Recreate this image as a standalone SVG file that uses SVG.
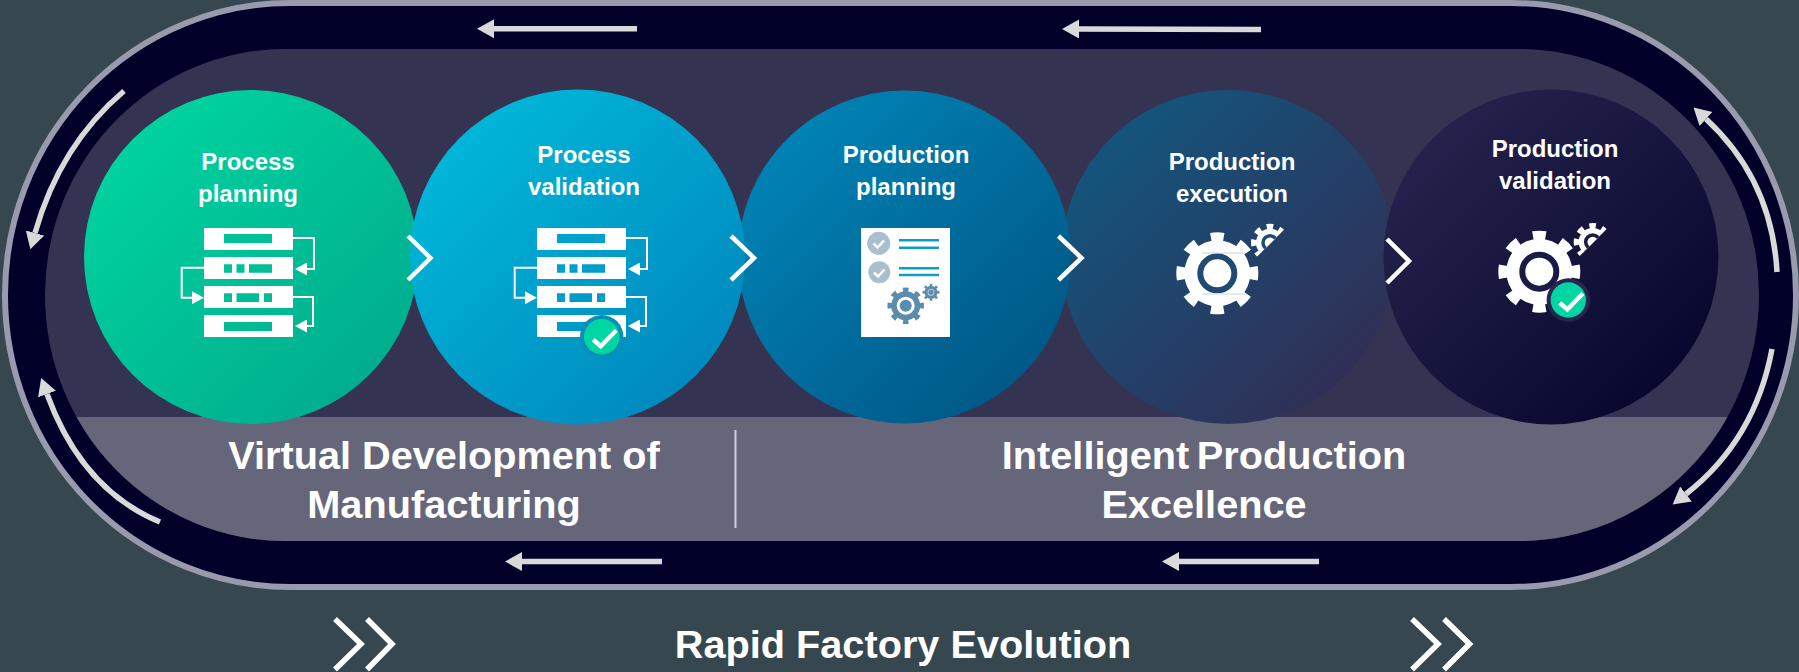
<svg xmlns="http://www.w3.org/2000/svg" width="1799" height="672" viewBox="0 0 1799 672">
<style>
.lbl{font:bold 24px "Liberation Sans",Arial,sans-serif;fill:#fff;text-anchor:middle}
.big{font:bold 39.700px "Liberation Sans",Arial,sans-serif;fill:#fff;text-anchor:middle}
.chev{fill:none;stroke:#fff;stroke-width:4.500}
.chev2{fill:none;stroke:#fff;stroke-width:5.500}
.arr{fill:none;stroke:#d9d9d9;stroke-width:5.500;marker-end:url(#ah)}
.w{fill:#fff}
.wl{fill:none;stroke:#fff;stroke-width:2;marker-end:url(#sh)}
.chk{fill:none;stroke:#fff;stroke-width:4.500}
</style>
<defs>
<linearGradient id="g1" x1=".15" y1=".15" x2=".85" y2=".85"><stop offset="0" stop-color="#00d2a0"/><stop offset="1" stop-color="#00ae8e"/></linearGradient>
<linearGradient id="g2" x1=".15" y1=".15" x2=".85" y2=".85"><stop offset="0" stop-color="#00b6d8"/><stop offset="1" stop-color="#008abf"/></linearGradient>
<linearGradient id="g3" x1=".15" y1=".15" x2=".85" y2=".85"><stop offset="0" stop-color="#0082b4"/><stop offset="1" stop-color="#005988"/></linearGradient>
<linearGradient id="g4" x1=".15" y1=".15" x2=".85" y2=".85"><stop offset="0" stop-color="#14547c"/><stop offset="1" stop-color="#303057"/></linearGradient>
<linearGradient id="g5" x1=".15" y1=".15" x2=".85" y2=".85"><stop offset="0" stop-color="#24224c"/><stop offset="1" stop-color="#08082f"/></linearGradient>
<marker id="ah" markerUnits="userSpaceOnUse" markerWidth="18" markerHeight="20" refX="0" refY="9.500" orient="auto"><path d="M0 0L17 9.500L0 19Z" fill="#d9d9d9"/></marker>
<marker id="sh" markerUnits="userSpaceOnUse" markerWidth="13" markerHeight="13" refX="0" refY="6.500" orient="auto"><path d="M0 0L12 6.500L0 13Z" fill="#fff"/></marker>
<clipPath id="lower"><rect x="0" y="417" width="1799" height="130"/></clipPath>
<clipPath id="half"><path d="M15 -14L-13 14L-30 14L-30 -30L15 -30Z"/></clipPath>
<g id="servers">
<path class="w" fill-rule="evenodd" d="M204 228h89v22h-89zM224 234v9h48v-9zM204 257h89v22h-89zM224 264.300v8.400h8v-8.400zM236.500 264.300v8.400h8v-8.400zM249 264.300v8.400h23v-8.400zM204 286h89v22h-89zM224 293.300v8.700h8v-8.700zM236.500 293.300v8.700h22.500v-8.700zM264 293.300v8.700h8v-8.700zM204 315h89v22h-89zM224 322v9h48v-9z"/>
<path class="wl" d="M293 238H314V269H307"/>
<path class="wl" d="M204 267.700H181.700V297.700H192"/>
<path class="wl" d="M293 297H313V326H307"/>
</g>
<g id="gear">
<circle r="36" fill="none" stroke="#fff" stroke-width="10" pathLength="80" stroke-dasharray="4.500 5.500" stroke-dashoffset="2.250"/>
<circle r="33" fill="#fff"/>
<circle r="17" fill="#fff" stroke="currentColor" stroke-width="6"/>
</g>
<g id="gearS" clip-path="url(#half)">
<circle r="16" fill="none" stroke="#fff" stroke-width="6" pathLength="80" stroke-dasharray="5 5" stroke-dashoffset="-2.500" transform="rotate(22)"/>
<circle r="14" fill="#fff"/>
<circle r="7" fill="#fff" stroke="currentColor" stroke-width="3.500"/>
</g>
<g id="badge">
<circle r="21.700" fill="currentColor"/>
<circle r="17.700" fill="#00d6a3"/>
<path class="chk" d="M-8.500 3L-1 9.500L14.500 -6.500"/>
</g>
</defs>
<rect width="1799" height="672" fill="#37474f"/>
<g id="track">
<rect x="5" y="3" width="1791" height="584" rx="285" ry="292" fill="#000028" stroke="#9a9aae" stroke-width="6"/>
<rect x="45" y="49" width="1714" height="492" rx="240" ry="246" fill="#343452"/>
<rect x="45" y="49" width="1714" height="492" rx="240" ry="246" fill="#66667a" clip-path="url(#lower)"/>
</g>
<g id="node-process-planning">
<circle cx="251" cy="257" r="167" fill="url(#g1)"/>
<text class="lbl" x="248" y="170">Process</text>
<text class="lbl" x="248" y="202">planning</text>
<use href="#servers"/>
</g>
<g id="node-production-execution">
<circle cx="1228" cy="257" r="167" fill="url(#g4)"/>
<text class="lbl" x="1232" y="170">Production</text>
<text class="lbl" x="1232" y="202">execution</text>
<use href="#gear" x="1217.300" y="273.300" color="#204a72"/>
<use href="#gearS" x="1270" y="242.700" color="#204a72"/>
<path d="M1202 253H1245M1202 294H1245" stroke="#c8d4dc" stroke-width="1"/>
</g>
<g id="node-production-planning">
<circle cx="904.500" cy="257" r="166.500" fill="url(#g3)"/>
<text class="lbl" x="906" y="163">Production</text>
<text class="lbl" x="906" y="195">planning</text>
<rect x="861" y="228" width="89" height="109" fill="#fff"/>
<circle cx="878.700" cy="243.300" r="11.500" fill="#a9bfcd"/>
<circle cx="879.300" cy="272.300" r="11" fill="#a9bfcd"/>
<path d="M873.500 243.500l4 4l6.500 -7M874 272.500l4 4l6.500 -7" fill="none" stroke="#fff" stroke-width="2.500"/>
<path d="M899 240.300H939M899 247.700H939M899 268.300H939M899 275H939" stroke="#0aa0c8" stroke-width="2.500"/>
<circle cx="905.700" cy="305.700" r="16" fill="none" stroke="#5b8cad" stroke-width="4.500" pathLength="80" stroke-dasharray="4.500 5.500" stroke-dashoffset="2.250"/>
<circle cx="905.700" cy="305.700" r="14.500" fill="#5b8cad"/>
<circle cx="905.700" cy="305.700" r="7.500" fill="#5b8cad" stroke="#fff" stroke-width="3"/>
<circle cx="931" cy="292.300" r="7" fill="none" stroke="#5b8cad" stroke-width="3" pathLength="80" stroke-dasharray="4.500 5.500" stroke-dashoffset="2.250"/>
<circle cx="931" cy="292.300" r="6.500" fill="#5b8cad"/>
<circle cx="931" cy="292.300" r="3" fill="#5b8cad" stroke="#a9bfcd" stroke-width="1.200"/>
</g>
<g id="node-process-validation">
<circle cx="577.500" cy="257" r="167.500" fill="url(#g2)"/>
<text class="lbl" x="584" y="163">Process</text>
<text class="lbl" x="584" y="195">validation</text>
<use href="#servers" x="333"/>
<use href="#badge" x="601.700" y="336.700" color="#0a90b8"/>
</g>
<g id="node-production-validation">
<circle cx="1551" cy="257" r="167.500" fill="url(#g5)"/>
<text class="lbl" x="1555" y="157">Production</text>
<text class="lbl" x="1555" y="189">validation</text>
<use href="#gear" x="1539.300" y="271.700" color="#1a1a45"/>
<use href="#gearS" x="1592.700" y="242" color="#1a1a45"/>
<use href="#badge" x="1568.300" y="300" color="#26264e"/>
</g>
<g id="band-labels">
<text class="big" x="444" y="469">Virtual Development of</text>
<text class="big" x="444" y="518">Manufacturing</text>
<text class="big" x="1204" y="469" word-spacing="-3.500">Intelligent Production</text>
<text class="big" x="1204" y="518">Excellence</text>
<rect x="734.500" y="430" width="2" height="98" fill="#d0d0d8"/>
<text class="big" x="903" y="658">Rapid Factory Evolution</text>
</g>
<g id="connectors">
<path class="chev" d="M408 236L430.500 258L408 280"/>
<path class="chev" d="M731 236L754 258L731 280"/>
<path class="chev" d="M1058.500 236L1081.500 258L1058.500 280"/>
<path class="chev" d="M1387 239L1409 261L1387 283"/>
<path class="chev2" d="M335 619L361 644L335 669.500M367 619L392 644L367 669.500"/>
<path class="chev2" d="M1412 619L1438 644L1412 669.500M1444 619L1469.500 644L1444 669.500"/>
<path class="arr" d="M637 28.700H494"/>
<path class="arr" d="M1261 29.500L1079 29"/>
<path class="arr" d="M662 561.500H522"/>
<path class="arr" d="M1319 561.500H1179"/>
<path class="arr" d="M124 91Q60 145 35 233"/>
<path class="arr" d="M160 522Q82 490 47 394"/>
<path class="arr" d="M1777 272Q1772 180 1706 119"/>
<path class="arr" d="M1772 349Q1755 440 1686 494"/>
</g>
</svg>
